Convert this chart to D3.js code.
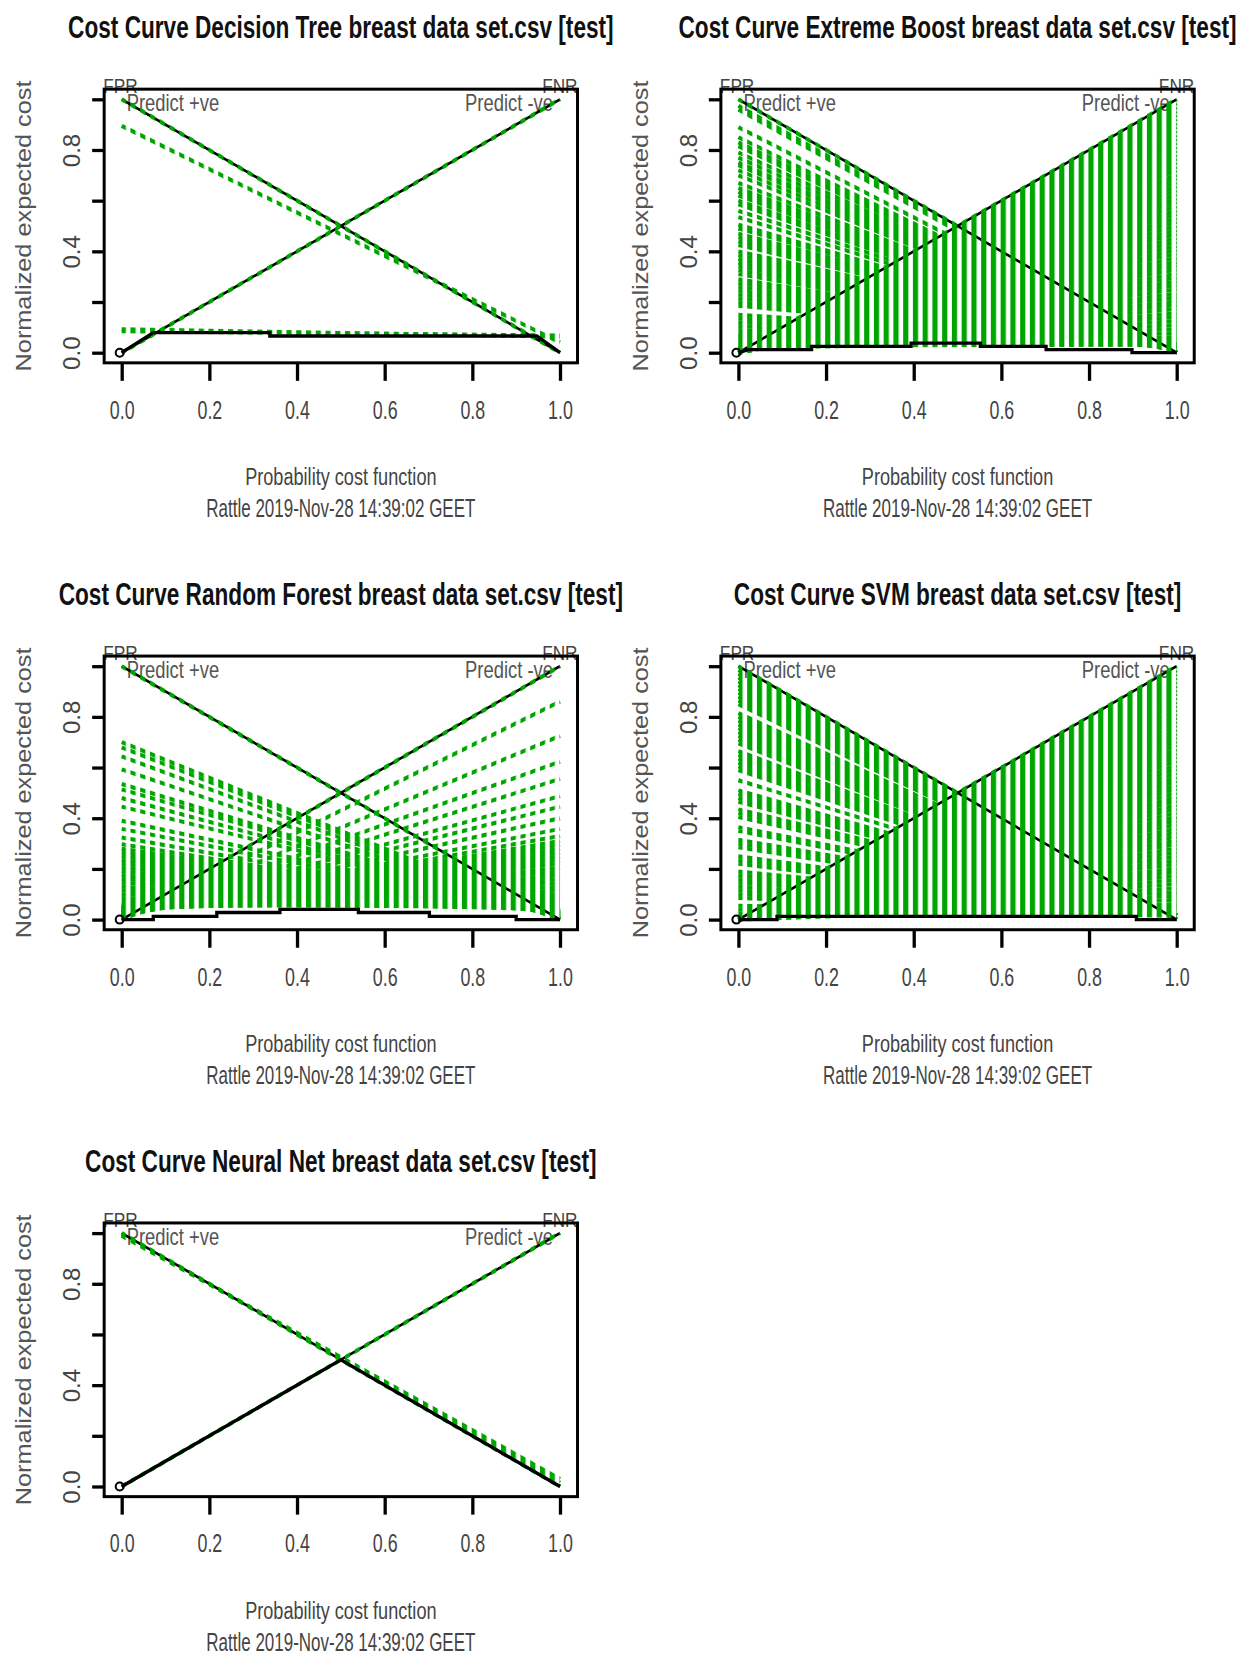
<!DOCTYPE html>
<html>
<head>
<meta charset="utf-8">
<script src="https://cdn.jsdelivr.net/npm/d3@7"></script>
<style>
  body { margin: 0; background: #fff; }
  svg text { font-family: "Liberation Sans", Arial, sans-serif; }
</style>
</head>
<body>
<svg id="chart" width="1245" height="1657"></svg>
<script>
// ---- data ----
const modelNames = ["Decision Tree", "Extreme Boost", "Random Forest", "SVM", "Neural Net"];
const stampText = "Rattle 2019-Nov-28 14:39:02 GEET";
const xTicks = [0, 0.2, 0.4, 0.6, 0.8, 1.0];
const yTicks = [0, 0.2, 0.4, 0.6, 0.8, 1.0];
const yLabelTicks = [0, 0.4, 0.8];
const diagonalLines = [[[0, 0], [1, 1]], [[0, 1], [1, 0]]];
const originPoint = [0, 0];

// ROC points [FPR, FNR]; each one gives a cost line from (0, FPR) to (1, FNR)
const dtRoc = [[0, 1], [0.085, 0.068], [0.093, 0.063], [0.895, 0.04], [1, 0]];

const xgbRoc = [
  [0, 1], [0, .984], [0, .969], [0, .953], [0, .938], [0, .922], [0, .906], [0, .891], [0, .875], [0, .859],
  [0, .844], [0, .828], [0, .812], [0, .797], [0, .781], [0, .766], [0, .75], [0, .734], [0, .719], [0, .703],
  [0, .688], [0, .672], [0, .656], [0, .641], [0, .625], [0, .609], [0, .594], [0, .578], [0, .562], [0, .547],
  [0, .531], [0, .516], [0, .5], [0, .484], [0, .469], [0, .453], [0, .438], [0, .422], [0, .406], [0, .391],
  [0, .375], [0, .359], [0, .344], [0, .328], [0, .312],
  [.009, .297], [.009, .281], [.009, .266], [.009, .25], [.009, .234], [.009, .219], [.009, .203], [.009, .188],
  [.009, .172], [.009, .156],
  [.019, .141], [.019, .125], [.019, .109], [.019, .094], [.019, .078], [.019, .062], [.019, .047],
  [.028, .031], [.037, .031], [.047, .031], [.056, .031], [.065, .031], [.075, .031], [.09, .031], [.105, .031],
  [.12, .031], [.135, .031], [.15, .031], [.185, .031],
  [.2, .016], [.215, .016], [.23, .016], [.245, .016], [.26, .016], [.275, .016], [.29, .016], [.31, .016],
  [.325, .016], [.34, .016], [.355, .016], [.37, .016], [.385, .016], [.4, .016], [.425, .016], [.44, .016],
  [.455, .016], [.47, .016], [.49, .016],
  [.505, 0], [.535, 0], [.56, 0], [.585, 0], [.6, 0], [.62, 0], [.635, 0], [.65, 0], [.67, 0], [.7, 0],
  [.72, 0], [.74, 0], [.75, 0], [.77, 0], [.79, 0], [.815, 0], [.83, 0], [.85, 0], [.89, 0], [.96, 0],
  [.975, 0], [1, 0]
];

const rfRoc = [
  [0, 1], [0, .861], [0, .725], [.005, .623], [.005, .555], [.01, .487], [.01, .446], [.015, .4], [.015, .358],
  [.02, .33], [.02, .31], [.02, .295], [.025, .28], [.025, .265], [.025, .25], [.03, .235], [.03, .22],
  [.03, .205], [.035, .19], [.035, .175], [.035, .16], [.04, .145], [.04, .13], [.04, .115], [.045, .1],
  [.045, .09], [.05, .08], [.05, .07], [.055, .06], [.06, .05], [.07, .045],
  [.085, .04], [.1, .04], [.115, .04], [.13, .035], [.145, .035], [.16, .035], [.175, .03], [.19, .03],
  [.205, .03], [.22, .03], [.235, .025], [.25, .025], [.265, .025], [.28, .025], [.297, .02], [.324, .02],
  [.358, .02], [.39, .015], [.446, .015], [.48, .01], [.514, .01], [.535, .005], [.593, .005],
  [.644, 0], [.68, 0], [.7, 0], [1, 0]
];

const svmRoc = [
  [0, 1], [0, .984], [0, .969], [0, .953], [0, .938], [0, .922], [0, .906], [0, .891], [0, .875], [0, .859],
  [0, .844], [0, .828], [0, .812], [0, .797], [0, .781], [0, .766], [0, .75], [0, .734], [0, .719], [0, .703],
  [0, .688], [0, .672], [0, .656], [0, .641], [0, .625], [0, .609], [0, .594], [0, .578], [0, .562], [0, .547],
  [0, .531], [0, .516], [0, .5], [0, .484], [0, .469], [0, .453], [0, .438], [0, .422], [0, .406], [0, .391],
  [0, .375], [0, .359], [0, .344], [0, .328], [0, .312], [0, .297], [0, .281], [0, .266], [0, .25], [0, .234],
  [0, .219], [0, .203], [0, .188], [0, .172], [0, .156], [0, .141], [0, .125], [0, .109], [0, .094], [0, .078],
  [0, .062], [.009, .047], [.009, .031],
  [.025, .016], [.04, .016], [.055, .016], [.085, .016], [.1, .016], [.115, .016], [.13, .016], [.145, .016],
  [.16, .016], [.175, .016], [.19, .016], [.22, .016], [.235, .016], [.25, .016], [.285, .016], [.3, .016],
  [.315, .016], [.35, .016], [.365, .016], [.405, .016], [.42, .016], [.435, .016], [.465, .016], [.48, .016],
  [.495, .016], [.51, .016], [.55, .016], [.59, .016], [.605, .016], [.62, .016], [.635, .016], [.65, .016],
  [.665, .016], [.695, .016], [.71, .016], [.725, .016], [.74, .016], [.755, .016], [.77, .016], [.785, .016],
  [.8, .016], [.815, .016], [.85, .016], [.865, .016], [.88, .016],
  [.895, 0], [.91, 0], [.925, 0], [.94, 0], [.955, 0], [.97, 0], [.985, 0], [1, 0]
];

const nnRoc = [[0, 1], [0.99, 0.03], [0.995, 0.015], [1, 0]];

// lower envelope (thick black line)
const dtEnvX = [0, .072, .338, .338, .947, 1];
const dtEnvY = [0, .079, .079, .066, .066, 0];
const xgbEnvX = [0, .023, .167, .167, .394, .394, .552, .552, .702, .702, .898, .898, 1];
const xgbEnvY = [0, .012, .012, .025, .025, .038, .038, .025, .025, .012, .012, 0, 0];
const rfEnvX = [0, .072, .072, .217, .217, .361, .361, .54, .54, .702, .702, .9, .9, 1];
const rfEnvY = [0, 0, .013, .013, .028, .028, .04, .04, .028, .028, .013, .013, 0, 0];
const svmEnvX = [0, .088, .088, .908, .908, 1];
const svmEnvY = [0, 0, .013, .013, 0, 0];
const nnEnvX = [0, .5, 1];
const nnEnvY = [0, .5, 0];

// ---- layout ----
const plotW = 438.3, plotH = 253.4;
const colX = [121.7, 738.4];
const rowY = [352.7, 919.6, 1486.5];
const green = "#00a600";
const stripeStep = 9.75, stripeOn = 5.2;

const svg = d3.select("#chart");
svg.append("rect").attr("width", 1245).attr("height", 1657).attr("fill", "#fff");
const defs = svg.append("defs");

const panels = [
  { name: modelNames[0], roc: dtRoc, envX: dtEnvX, envY: dtEnvY },
  { name: modelNames[1], roc: xgbRoc, envX: xgbEnvX, envY: xgbEnvY },
  { name: modelNames[2], roc: rfRoc, envX: rfEnvX, envY: rfEnvY },
  { name: modelNames[3], roc: svmRoc, envX: svmEnvX, envY: svmEnvY },
  { name: modelNames[4], roc: nnRoc, envX: nnEnvX, envY: nnEnvY }
];

function label(g, str, x, y, o) {
  return g.append("text")
    .attr("transform", `translate(${x},${y})` + (o.rot ? ` rotate(${o.rot})` : "") + ` scale(${o.sx},1)`)
    .attr("text-anchor", o.anchor || "middle")
    .attr("font-size", o.size)
    .attr("font-weight", o.bold ? "bold" : null)
    .attr("fill", o.fill || "#444")
    .text(str);
}

function drawPanel(p, i) {
  const col = i % 2, row = Math.floor(i / 2);
  const x = d3.scaleLinear().domain([0, 1]).range([colX[col], colX[col] + plotW]);
  const y = d3.scaleLinear().domain([0, 1]).range([rowY[row], rowY[row] - plotH]);
  const left = x(-0.04), right = x(1.04), top = y(1.04), bottom = y(-0.04);
  const mid = (left + right) / 2;
  const g = svg.append("g");

  // texts
  label(g, `Cost Curve ${p.name} breast data set.csv [test]`, mid, top - 51, { size: 31, sx: 0.73, bold: true, fill: "#111" });
  label(g, "Probability cost function", mid, y(0) + 132, { size: 24.5, sx: 0.74 });
  label(g, stampText, mid, y(0) + 164, { size: 25, sx: 0.68 });
  label(g, "Normalized expected cost", x(0) - 90.7, (y(0) + y(1)) / 2, { size: 22, sx: 1.15, rot: -90, fill: "#555" });
  label(g, "FPR", left - 1, top + 4, { size: 21, sx: 0.82, anchor: "start" });
  label(g, "FNR", right, top + 4, { size: 21, sx: 0.82, anchor: "end" });
  label(g, "Predict +ve", x(0) + 5, y(1) + 12, { size: 23, sx: 0.8, anchor: "start", fill: "#555" });
  label(g, "Predict -ve", x(1) - 7, y(1) + 12, { size: 23, sx: 0.8, anchor: "end", fill: "#555" });

  // axes
  const xAxis = g.append("g").attr("transform", `translate(0,${bottom})`)
    .call(d3.axisBottom(x).tickValues(xTicks).tickSize(18).tickSizeOuter(0).tickFormat(d3.format(".1f")));
  xAxis.select(".domain").remove();
  xAxis.selectAll("line").attr("stroke", "#000").attr("stroke-width", 3.3);
  xAxis.selectAll("text")
    .attr("y", y(0) + 66 - bottom).attr("dy", null)
    .attr("font-size", 25.5).attr("fill", "#444")
    .attr("transform", "scale(0.7,1)");

  const yAxis = g.append("g").attr("transform", `translate(${left},0)`)
    .call(d3.axisLeft(y).tickValues(yTicks).tickSize(12).tickSizeOuter(0)
      .tickFormat(d => yLabelTicks.includes(d) ? d3.format(".1f")(d) : ""));
  yAxis.select(".domain").remove();
  yAxis.selectAll("line").attr("stroke", "#000").attr("stroke-width", 3.3);
  yAxis.selectAll("text")
    .attr("x", 0).attr("dy", null).attr("text-anchor", "middle")
    .attr("font-size", 24).attr("fill", "#444")
    .attr("transform", `translate(${x(0) - 41.7 - left},0) rotate(-90)`);

  // reference diagonals
  g.append("g").selectAll("line").data(diagonalLines).join("line")
    .attr("x1", d => x(d[0][0])).attr("y1", d => y(d[0][1]))
    .attr("x2", d => x(d[1][0])).attr("y2", d => y(d[1][1]))
    .attr("stroke", "#000").attr("stroke-width", 2.6);

  // dotted green cost lines (dots line up in columns, like the original device)
  const pat = defs.append("pattern").attr("id", `stripe${i}`).attr("patternUnits", "userSpaceOnUse")
    .attr("x", x(0) - 1).attr("y", 0).attr("width", stripeStep).attr("height", 10);
  pat.append("rect").attr("width", stripeOn).attr("height", 10).attr("fill", "#fff");
  const mask = defs.append("mask").attr("id", `mask${i}`).attr("maskUnits", "userSpaceOnUse")
    .attr("x", left).attr("y", top).attr("width", right - left).attr("height", bottom - top);
  mask.append("rect").attr("x", left).attr("y", top).attr("width", right - left).attr("height", bottom - top)
    .attr("fill", `url(#stripe${i})`);

  g.append("g").attr("mask", `url(#mask${i})`)
    .selectAll("line").data(p.roc).join("line")
    .attr("x1", x(0)).attr("y1", d => y(d[0]))
    .attr("x2", x(1)).attr("y2", d => y(d[1]))
    .attr("stroke", green).attr("stroke-width", 4);

  // lower envelope
  g.append("path").datum(d3.zip(p.envX, p.envY))
    .attr("d", d3.line().x(d => x(d[0])).y(d => y(d[1])))
    .attr("fill", "none").attr("stroke", "#000").attr("stroke-width", 3.3);

  g.append("circle").attr("cx", x(originPoint[0]) - 2).attr("cy", y(originPoint[1]))
    .attr("r", 4).attr("fill", "none").attr("stroke", "#000").attr("stroke-width", 2);

  // box
  g.append("rect").attr("x", left).attr("y", top).attr("width", right - left).attr("height", bottom - top)
    .attr("fill", "none").attr("stroke", "#000").attr("stroke-width", 3);
}

panels.forEach((p, i) => drawPanel(p, i));
</script>
</body>
</html>
